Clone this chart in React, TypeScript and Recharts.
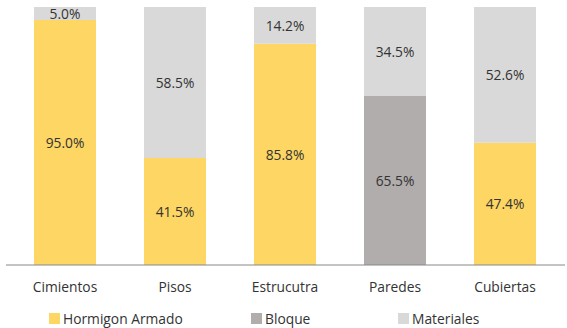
import React from 'react';
import { BarChart, Bar, XAxis, YAxis, Legend, LabelList } from 'recharts';

const categories = ['Cimientos', 'Pisos', 'Estrucutra', 'Paredes', 'Cubiertas'];
const hormigonArmado = [95.0, 41.5, 85.8, 0, 47.4];
const bloque = [0, 0, 0, 65.5, 0];
const materiales = [5.0, 58.5, 14.2, 34.5, 52.6];

const seriesNames = ['Hormigon Armado', 'Bloque', 'Materiales'];
const seriesColors = ['#FDD663', '#B1ADAC', '#D9D9D9'];

const data = categories.map((name, i) => ({
  name,
  'Hormigon Armado': hormigonArmado[i],
  Bloque: bloque[i],
  Materiales: materiales[i],
}));

const FONT = '"Open Sans", sans-serif';
const FS = 13.8;

const PctLabel: React.FC<any> = ({ x, y, width, height, value }) => {
  if (!value) return null;
  return (
    <text
      x={x + width / 2}
      y={y + height / 2}
      textAnchor="middle"
      dominantBaseline="central"
      fill="#333"
      fontSize={FS}
      fontFamily={FONT}
    >
      {`${Number(value).toFixed(1)}%`}
    </text>
  );
};

const itemLeft = [49, 251, 398];

const CustomLegend: React.FC<any> = () => (
  <div style={{ position: 'relative', height: 30, width: 567, fontFamily: FONT, fontSize: FS, color: '#333' }}>
    {seriesNames.map((n, i) => (
      <div
        key={n}
        style={{ position: 'absolute', left: itemLeft[i], top: 11, display: 'flex', alignItems: 'center', whiteSpace: 'nowrap' }}
      >
        <span style={{ display: 'inline-block', width: 11, height: 11, background: seriesColors[i], marginRight: 3 }} />
        <span>{n}</span>
      </div>
    ))}
  </div>
);

export default function App() {
  return (
    <div style={{ position: 'absolute', left: 0, top: 0, background: '#fff' }}>
      <BarChart
        width={567}
        height={328}
        data={data}
        margin={{ top: 7, right: 2, left: 6, bottom: 0 }}
      >
        <XAxis
          dataKey="name"
          axisLine={{ stroke: '#888', strokeWidth: 1 }}
          tickLine={false}
          tickSize={0}
          tickMargin={17}
          height={33}
          padding={{ left: 4, right: 5 }}
          tick={{ fill: '#333', fontSize: FS, fontFamily: FONT }}
        />
        <YAxis hide domain={[0, 100]} />
        <Legend verticalAlign="bottom" height={30} wrapperStyle={{ left: 0 }} content={<CustomLegend />} />
        {seriesNames.map((n, i) => (
          <Bar key={n} dataKey={n} stackId="a" fill={seriesColors[i]} barSize={62} isAnimationActive={false}>
            <LabelList dataKey={n} content={<PctLabel />} />
          </Bar>
        ))}
      </BarChart>
    </div>
  );
}
